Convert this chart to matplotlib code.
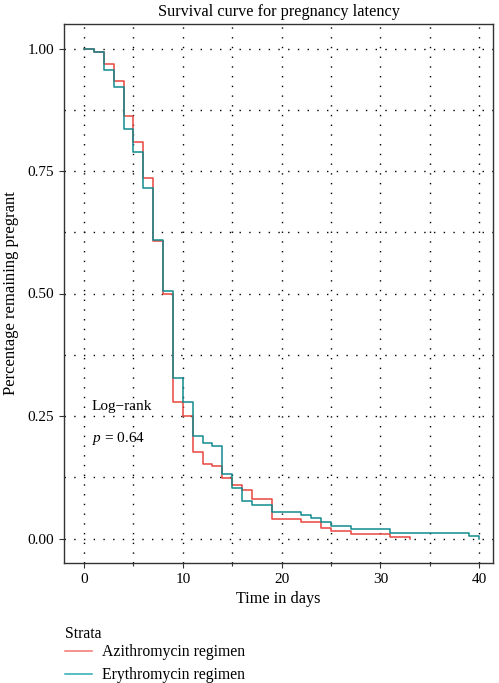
import matplotlib
matplotlib.use("Agg")
import matplotlib.pyplot as plt
from matplotlib.lines import Line2D
from matplotlib.ticker import MultipleLocator, FormatStrFormatter

plt.rcParams['font.family'] = ['Liberation Serif', 'DejaVu Serif']
plt.rcParams['mathtext.fontset'] = 'custom'
plt.rcParams['mathtext.it'] = 'Liberation Serif:italic'
plt.rcParams['mathtext.rm'] = 'Liberation Serif'

# Kaplan-Meier step data (time in days, survival after step)
azi_time = [0, 1, 2, 3, 4, 5, 6, 7, 8, 9, 10, 11, 12, 13, 14, 15, 16, 17, 19, 22, 24, 25, 27, 31, 33]
azi_surv = [1.0, 0.993, 0.969, 0.933, 0.862, 0.809, 0.736, 0.607, 0.498, 0.278, 0.249, 0.177,
            0.153, 0.147, 0.124, 0.110, 0.099, 0.081, 0.040, 0.034, 0.022, 0.015, 0.009, 0.003, 0.0]

ery_time = [0, 1, 2, 3, 4, 5, 6, 7, 8, 9, 10, 11, 12, 13, 14, 15, 16, 17, 19, 22, 23, 24, 25, 27, 31, 39, 40]
ery_surv = [1.0, 0.993, 0.957, 0.921, 0.836, 0.788, 0.716, 0.610, 0.505, 0.328, 0.279, 0.209,
            0.195, 0.188, 0.132, 0.103, 0.076, 0.069, 0.054, 0.047, 0.041, 0.033, 0.026, 0.019,
            0.012, 0.005, 0.0]

labels = ["Azithromycin regimen", "Erythromycin regimen"]
line_colors = ["#E8453E", "#118A8E"]
legend_colors = ["#F2746C", "#2AABB1"]

fig = plt.figure(figsize=(4.99, 6.83), dpi=100)
ax = fig.add_axes([64/499, 1-563/683, (493-64)/499, (563-24)/683])

ax.step(azi_time, azi_surv, where='post', color=line_colors[0], lw=1.1)
ax.step(ery_time, ery_surv, where='post', color=line_colors[1], lw=1.1)

ax.set_xlim(-2.03, 41.4)
ax.set_ylim(-0.05, 1.05)
ax.xaxis.set_major_locator(MultipleLocator(10))
ax.xaxis.set_minor_locator(MultipleLocator(5))
ax.yaxis.set_major_locator(MultipleLocator(0.25))
ax.yaxis.set_minor_locator(MultipleLocator(0.125))
ax.yaxis.set_major_formatter(FormatStrFormatter('%.2f'))

ax.grid(True, which='both', color='black', linestyle=(0, (1, 6)), linewidth=1.0)
ax.tick_params(axis='both', which='major', length=3.5, width=0.8, labelsize=11, color='#333333')
ax.tick_params(axis='x', which='minor', length=2, width=0.8, color='#333333')
ax.tick_params(axis='y', which='minor', length=0)
for s in ax.spines.values():
    s.set_linewidth(1.0)
    s.set_color('#333333')

ax.set_title("Survival curve for pregnancy latency", fontsize=11.7, pad=6)
ax.set_xlabel("Time in days", fontsize=11.7, labelpad=4)
ax.set_ylabel("Percentage remaining pregrant", fontsize=12, labelpad=6)

ax.text(0.8, 0.27, "Log\u2212rank", fontsize=11, va='center', ha='left')
ax.text(0.8, 0.205, r"$\mathit{p}$ = 0.64", fontsize=11, va='center', ha='left')

fig.text(65/499, 1-634/683, "Strata", fontsize=11.3, va='center', ha='left')
handles = [Line2D([0], [0], color=c, lw=1.1) for c in legend_colors]
leg = fig.legend(handles, labels, loc='upper left',
                 bbox_to_anchor=(65/499, 1-644/683), frameon=False,
                 fontsize=11.3, handlelength=1.7,
                 handletextpad=0.65, labelspacing=0.45,
                 borderaxespad=0, borderpad=0)

fig.savefig("out.png", dpi=100)
